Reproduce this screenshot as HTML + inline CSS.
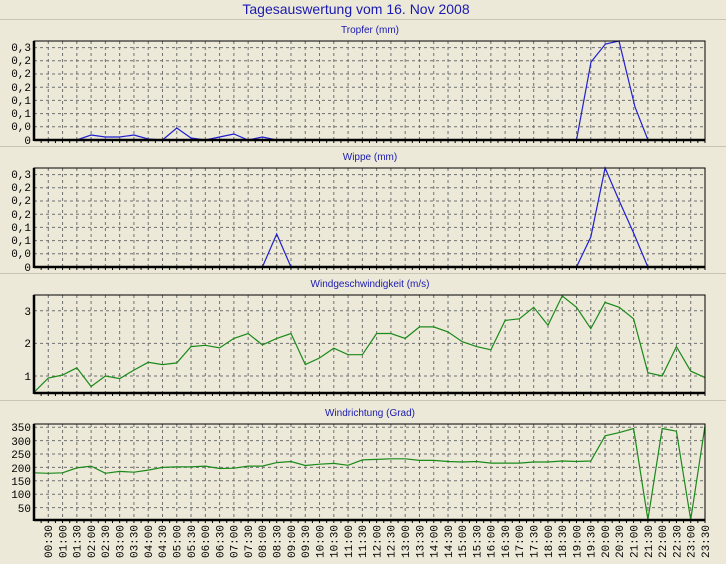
<!DOCTYPE html>
<html><head><meta charset="utf-8"><style>
html,body{margin:0;padding:0;background:#ECE9D8;}
svg{display:block;}
.t{font-family:"Liberation Sans",sans-serif;fill:#1a1ab0;}
.y{font-family:"Liberation Mono",monospace;font-size:11px;fill:#000;text-anchor:end;}
.x{font-family:"Liberation Mono",monospace;font-size:11px;fill:#000;text-anchor:end;}
</style></head><body>
<svg id="s" width="726" height="564" viewBox="0 0 726 564" xmlns="http://www.w3.org/2000/svg">
<rect width="726" height="564" fill="#ECE9D8"/>
<text class="t" x="356" y="14" font-size="14" text-anchor="middle">Tagesauswertung vom 16. Nov 2008</text>
<line x1="0" y1="19.5" x2="726" y2="19.5" stroke="#c8c5b4"/>
<line x1="0" y1="146.5" x2="726" y2="146.5" stroke="#c8c5b4"/>
<line x1="0" y1="273.5" x2="726" y2="273.5" stroke="#c8c5b4"/>
<line x1="0" y1="400.5" x2="726" y2="400.5" stroke="#c8c5b4"/>
<text class="t" x="370" y="33" font-size="10" text-anchor="middle">Tropfer (mm)</text>
<text class="t" x="370" y="160" font-size="10" text-anchor="middle">Wippe (mm)</text>
<text class="t" x="370" y="287" font-size="10" text-anchor="middle">Windgeschwindigkeit (m/s)</text>
<text class="t" x="370" y="416" font-size="10" text-anchor="middle">Windrichtung (Grad)</text>
<g id="g"></g>
<g class="y">
<text x="31" y="51">0,3</text><text x="31" y="64">0,2</text><text x="31" y="77">0,2</text><text x="31" y="91">0,2</text><text x="31" y="104">0,1</text><text x="31" y="117">0,1</text><text x="31" y="130">0,0</text><text x="31" y="144">0</text>
<text x="31" y="178">0,3</text><text x="31" y="191">0,2</text><text x="31" y="204">0,2</text><text x="31" y="218">0,2</text><text x="31" y="231">0,1</text><text x="31" y="244">0,1</text><text x="31" y="257">0,0</text><text x="31" y="271">0</text>
<text x="31" y="315">3</text><text x="31" y="347">2</text><text x="31" y="380">1</text>
<text x="31" y="431">350</text><text x="31" y="445">300</text><text x="31" y="458">250</text><text x="31" y="472">200</text><text x="31" y="485">150</text><text x="31" y="498">100</text><text x="31" y="512">50</text>
</g>
<g class="x">
<text transform="translate(52,525) rotate(-90)">00:30</text>
<text transform="translate(66.3,525) rotate(-90)">01:00</text>
<text transform="translate(80.6,525) rotate(-90)">01:30</text>
<text transform="translate(94.8,525) rotate(-90)">02:00</text>
<text transform="translate(109.1,525) rotate(-90)">02:30</text>
<text transform="translate(123.4,525) rotate(-90)">03:00</text>
<text transform="translate(137.7,525) rotate(-90)">03:30</text>
<text transform="translate(152,525) rotate(-90)">04:00</text>
<text transform="translate(166.2,525) rotate(-90)">04:30</text>
<text transform="translate(180.5,525) rotate(-90)">05:00</text>
<text transform="translate(194.8,525) rotate(-90)">05:30</text>
<text transform="translate(209.1,525) rotate(-90)">06:00</text>
<text transform="translate(223.4,525) rotate(-90)">06:30</text>
<text transform="translate(237.6,525) rotate(-90)">07:00</text>
<text transform="translate(251.9,525) rotate(-90)">07:30</text>
<text transform="translate(266.2,525) rotate(-90)">08:00</text>
<text transform="translate(280.5,525) rotate(-90)">08:30</text>
<text transform="translate(294.8,525) rotate(-90)">09:00</text>
<text transform="translate(309,525) rotate(-90)">09:30</text>
<text transform="translate(323.3,525) rotate(-90)">10:00</text>
<text transform="translate(337.6,525) rotate(-90)">10:30</text>
<text transform="translate(351.9,525) rotate(-90)">11:00</text>
<text transform="translate(366.2,525) rotate(-90)">11:30</text>
<text transform="translate(380.4,525) rotate(-90)">12:00</text>
<text transform="translate(394.7,525) rotate(-90)">12:30</text>
<text transform="translate(409,525) rotate(-90)">13:00</text>
<text transform="translate(423.3,525) rotate(-90)">13:30</text>
<text transform="translate(437.6,525) rotate(-90)">14:00</text>
<text transform="translate(451.8,525) rotate(-90)">14:30</text>
<text transform="translate(466.1,525) rotate(-90)">15:00</text>
<text transform="translate(480.4,525) rotate(-90)">15:30</text>
<text transform="translate(494.7,525) rotate(-90)">16:00</text>
<text transform="translate(509,525) rotate(-90)">16:30</text>
<text transform="translate(523.2,525) rotate(-90)">17:00</text>
<text transform="translate(537.5,525) rotate(-90)">17:30</text>
<text transform="translate(551.8,525) rotate(-90)">18:00</text>
<text transform="translate(566.1,525) rotate(-90)">18:30</text>
<text transform="translate(580.4,525) rotate(-90)">19:00</text>
<text transform="translate(594.6,525) rotate(-90)">19:30</text>
<text transform="translate(608.9,525) rotate(-90)">20:00</text>
<text transform="translate(623.2,525) rotate(-90)">20:30</text>
<text transform="translate(637.5,525) rotate(-90)">21:00</text>
<text transform="translate(651.8,525) rotate(-90)">21:30</text>
<text transform="translate(666,525) rotate(-90)">22:00</text>
<text transform="translate(680.3,525) rotate(-90)">22:30</text>
<text transform="translate(694.6,525) rotate(-90)">23:00</text>
<text transform="translate(708.9,525) rotate(-90)">23:30</text>
</g>
</svg>
<script>
var NS="http://www.w3.org/2000/svg",g=document.getElementById("g");
function el(n,a){var e=document.createElementNS(NS,n);for(var k in a)e.setAttribute(k,a[k]);g.appendChild(e);return e;}
var L=34,R=705,st=(R-L)/47;
function X(i){return L+i*st;}
function panel(top,bot,hys,pts,col){
 el("rect",{x:L,y:top,width:R-L,height:bot-top,fill:"#ECE9D8"});
 for(var i=1;i<47;i++)el("line",{x1:X(i),y1:top,x2:X(i),y2:bot,stroke:"#707070","stroke-dasharray":"3,3","stroke-width":1});
 hys.forEach(function(y){el("line",{x1:L,y1:y,x2:R,y2:y,stroke:"#707070","stroke-dasharray":"3,3","stroke-width":1});});
 for(var i=1;i<=94;i++){var x=L+i*st/2;el("line",{x1:x,y1:bot,x2:x,y2:bot+3,stroke:"#000"});}
 el("polyline",{points:pts.map(function(p){return p[0].toFixed(1)+","+p[1].toFixed(1);}).join(" "),fill:"none",stroke:col,"stroke-width":1.2});
 el("rect",{x:L,y:top,width:R-L,height:bot-top,fill:"none",stroke:"#000","stroke-width":1});
 el("line",{x1:L,y1:top,x2:L,y2:bot+1,stroke:"#000","stroke-width":2.5});
 el("line",{x1:L,y1:bot,x2:R,y2:bot,stroke:"#000","stroke-width":2.5});
}
function hy(bot,n,s){var a=[];for(var k=1;k<=n;k++)a.push(bot-k*s);return a;}
// panel 1
var p1=[[X(0),140],[X(3),140],[X(4),135],[X(5),137],[X(6),137],[X(7),135],[X(8),139],[X(9),140],[X(10),128],[X(11),138],[X(12),140],[X(13),137],[X(14),134],[X(15),140],[X(16),137],[X(17),140],[X(38),140],[591,62],[605.5,44],[619,41],[635,107],[648,140],[R,140]];
panel(41,140,hy(140,7,13.2),p1,"#2020d0");
var p2=[[X(0),267],[X(16),267],[X(17),234],[X(18),267],[X(38),267],[X(39),237],[X(40),168],[X(41),201],[X(42),233],[X(43),267],[R,267]];
panel(168,267,hy(267,7,13.2),p2,"#2020d0");
var ws=[0.5,0.94,1.03,1.25,0.68,1.0,0.92,1.18,1.42,1.35,1.4,1.9,1.94,1.86,2.15,2.3,1.95,2.15,2.3,1.35,1.55,1.85,1.65,1.65,2.3,2.3,2.15,2.5,2.5,2.35,2.05,1.9,1.8,2.7,2.75,3.1,2.55,3.45,3.1,2.45,3.25,3.1,2.75,1.1,1.0,1.9,1.15,0.95];
panel(295,393,[310.7,343.4,376],ws.map(function(v,i){return [X(i),Math.min(393,408.7-v*32.7)];}),"#1a8a1a");
var wd=[180,178,180,198,205,178,185,182,190,200,202,202,205,196,197,205,205,218,222,207,212,215,208,228,230,232,232,226,226,222,220,222,216,216,216,220,220,224,222,224,318,330,345,5,345,335,5,355];
panel(424,520,hy(521,7,13.4),wd.map(function(v,i){return [X(i),Math.min(520,521-v*0.268)];}),"#1a8a1a");
</script>
</body></html>
